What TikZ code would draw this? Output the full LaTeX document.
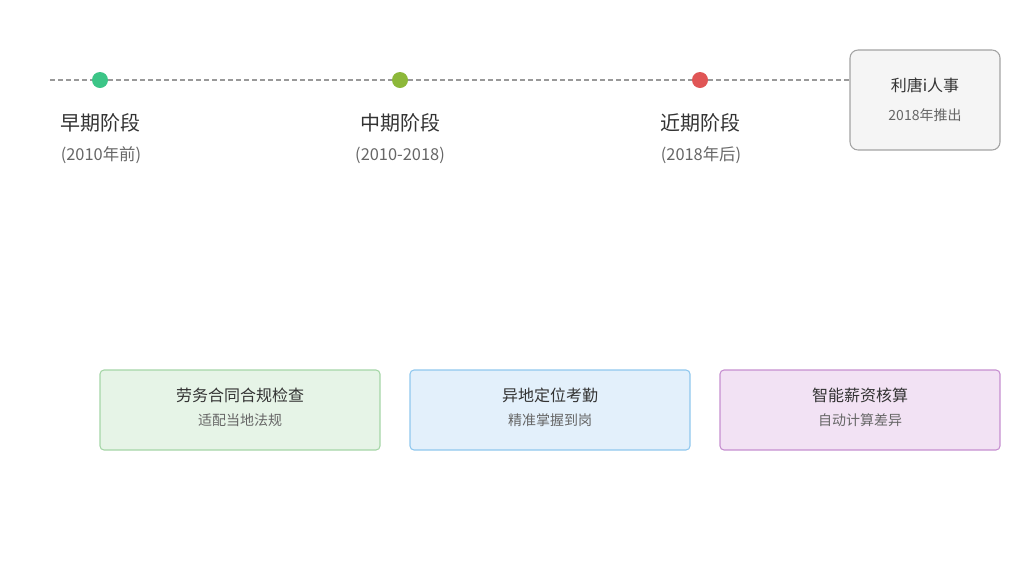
\documentclass[tikz,border=0pt]{standalone}
\usepackage{fontspec}
\setmainfont{Noto Sans CJK SC}
\usetikzlibrary{calc}
\definecolor{dotgreen}{HTML}{3CC587}
\definecolor{dotolive}{HTML}{8DB83A}
\definecolor{dotred}{HTML}{E05656}
\definecolor{titlegray}{HTML}{333333}
\definecolor{subgray}{HTML}{666666}
\definecolor{linegray}{HTML}{999999}
\definecolor{greenfill}{HTML}{E6F4E7}
\definecolor{greenline}{HTML}{A5D6A7}
\definecolor{bluefill}{HTML}{E3F0FB}
\definecolor{blueline}{HTML}{90C8EE}
\definecolor{purplefill}{HTML}{F2E2F4}
\definecolor{purpleline}{HTML}{C68FD0}

\tikzset{
	stagedot/.style={circle,inner sep=0pt,minimum size=12pt},
	stagetitle/.style={text=titlegray,font=\fontsize{15}{18}\selectfont},
	stagesub/.style={text=subgray,font=\fontsize{12.3}{14}\selectfont},
	boxtitle/.style={text=titlegray,font=\fontsize{12}{14}\selectfont},
	boxsub/.style={text=subgray,font=\fontsize{10.5}{13}\selectfont},
	featbox/.style={draw,rounded corners=3pt,line width=0.8pt,minimum width=210pt,minimum height=60pt}
}

\begin{document}
\begin{tikzpicture}[x=0.75pt,y=-0.75pt]
	\useasboundingbox (0,0) rectangle (1024,576);
	% Product box on the right
	\node[draw=linegray!90,fill=black!4,rounded corners=6pt,line width=0.8pt,
		minimum width=112.5pt,minimum height=75pt] (lirui) at (925,100) {};
	\node[boxtitle] (liruititle) at (925,85) {利唐i人事};
	\node[boxsub] (liruisub) at (925,115) {2018年推出};
	% Timeline dots
	\coordinate (tlstart) at (50,80);
	\node[stagedot,fill=dotgreen] (early) at (100,80) {};
	\node[stagedot,fill=dotolive] (middle) at (400,80) {};
	\node[stagedot,fill=dotred] (late) at (700,80) {};
	% Dashed timeline
	\draw[linegray,line width=1pt,dash pattern=on 3.5pt off 2.5pt]
		(tlstart) -- (early) -- (middle) -- (late) -- (late -| lirui.west);
	% Stage labels
	\node[stagetitle] (earlytitle) at (100,123) {早期阶段};
	\node[stagesub] (earlysub) at (101,155) {(2010年前)};
	\node[stagetitle] (middletitle) at (400,123) {中期阶段};
	\node[stagesub] (middlesub) at (400,155) {(2010-2018)};
	\node[stagetitle] (latetitle) at (700,123) {近期阶段};
	\node[stagesub] (latesub) at (701,155) {(2018年后)};
	% Feature boxes
	\node[featbox,draw=greenline,fill=greenfill] (labor) at (240,410) {};
	\node[boxtitle] (labortitle) at (240,395) {劳务合同合规检查};
	\node[boxsub] (laborsub) at (240,420) {适配当地法规};
	\node[featbox,draw=blueline,fill=bluefill] (attend) at (550,410) {};
	\node[boxtitle] (attendtitle) at (550,395) {异地定位考勤};
	\node[boxsub] (attendsub) at (550,420) {精准掌握到岗};
	\node[featbox,draw=purpleline,fill=purplefill] (salary) at (860,410) {};
	\node[boxtitle] (salarytitle) at (860,395) {智能薪资核算};
	\node[boxsub] (salarysub) at (860,420) {自动计算差异};
\end{tikzpicture}
\end{document}
